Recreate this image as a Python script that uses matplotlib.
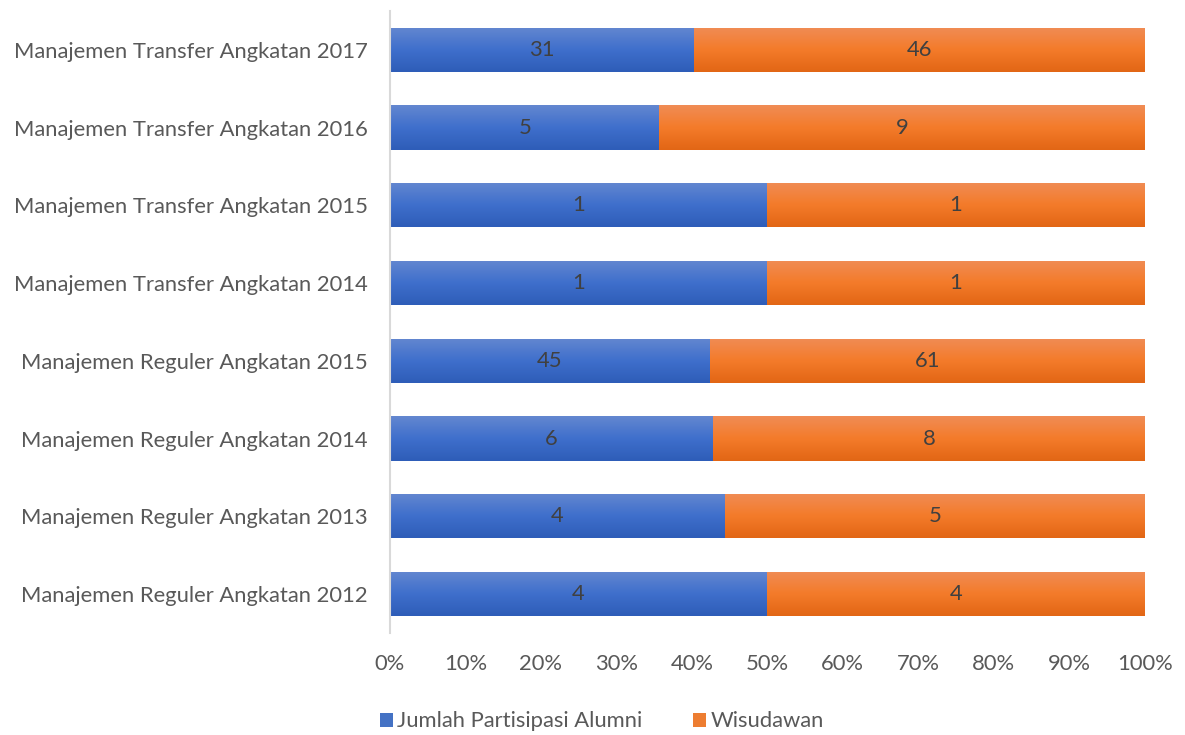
import matplotlib
matplotlib.use('Agg')
import matplotlib.pyplot as plt
import matplotlib.ticker as mtick
import numpy as np
from matplotlib.colors import LinearSegmentedColormap

categories = [
    'Manajemen Reguler Angkatan 2012',
    'Manajemen Reguler Angkatan 2013',
    'Manajemen Reguler Angkatan 2014',
    'Manajemen Reguler Angkatan 2015',
    'Manajemen Transfer Angkatan 2014',
    'Manajemen Transfer Angkatan 2015',
    'Manajemen Transfer Angkatan 2016',
    'Manajemen Transfer Angkatan 2017',
]
alumni = [4, 4, 6, 45, 1, 1, 5, 31]
wisudawan = [4, 5, 8, 61, 1, 1, 9, 46]
series_names = ['Jumlah Partisipasi Alumni', 'Wisudawan']

plt.rcParams['font.family'] = ['Lato', 'DejaVu Sans']
fs = 15.8

fig = plt.figure(figsize=(11.85, 7.35), dpi=100)
ax = fig.add_axes([0.329, 0.139, 0.637, 0.846])

a = np.array(alumni, dtype=float)
w = np.array(wisudawan, dtype=float)
tot = a + w
pa = a / tot
pw = w / tot
y = np.arange(len(categories))

blue_bars = ax.barh(y, pa, height=0.57, color='#4472C4', label=series_names[0])
orange_bars = ax.barh(y, pw, left=pa, height=0.57, color='#ED7D31', label=series_names[1])

# vertical gradient like the office-style fill
grad = np.linspace(0, 1, 100).reshape(-1, 1)
cm_blue = LinearSegmentedColormap.from_list('b', ['#2E5DB8', '#3F6FCC', '#6387D0'])
cm_orange = LinearSegmentedColormap.from_list('o', ['#E26615', '#F47B2A', '#F08C55'])
for bars, cm in [(blue_bars, cm_blue), (orange_bars, cm_orange)]:
    for b in bars:
        x0, y0 = b.get_x(), b.get_y()
        im = ax.imshow(grad, cmap=cm, aspect='auto', origin='lower',
                       extent=[x0, x0 + b.get_width(), y0, y0 + b.get_height()], zorder=2)
        im.set_clip_path(b)

for i in range(len(categories)):
    ax.text(pa[i] / 2, y[i], str(alumni[i]), ha='center', va='center',
            fontsize=fs, color='#404040', zorder=3)
    ax.text(pa[i] + pw[i] / 2, y[i], str(wisudawan[i]), ha='center', va='center',
            fontsize=fs, color='#404040', zorder=3)

ax.set_xlim(0, 1)
ax.set_ylim(-0.5, len(categories) - 0.5)
ax.set_yticks(y)
ax.set_yticklabels(categories, fontsize=fs, color='#595959')
ax.set_xticks(np.linspace(0, 1, 11))
ax.xaxis.set_major_formatter(mtick.PercentFormatter(xmax=1, decimals=0))
ax.tick_params(axis='x', labelsize=fs, labelcolor='#595959', length=0, pad=15)
ax.tick_params(axis='y', length=0, pad=16)
for s in ['top', 'right', 'bottom']:
    ax.spines[s].set_visible(False)
ax.spines['left'].set_color('#D9D9D9')
ax.spines['left'].set_linewidth(1.5)

leg = fig.legend(handles=[blue_bars, orange_bars], loc='lower center',
                 bbox_to_anchor=(0.508, -0.022), ncol=2, frameon=False,
                 fontsize=fs, handlelength=0.6, handleheight=0.6,
                 handletextpad=0.2, columnspacing=2.3)
for t in leg.get_texts():
    t.set_color('#595959')

fig.savefig('out.png', dpi=100)
